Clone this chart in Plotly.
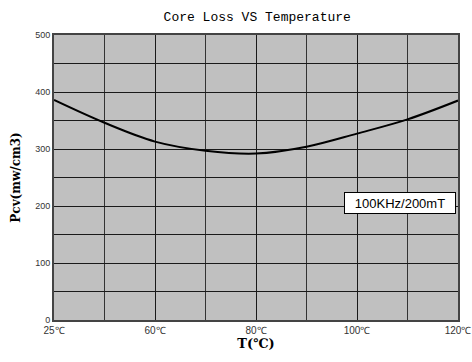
import plotly.graph_objects as go

# Temperature grid positions (evenly spaced on the chart) and their labels
positions = [0, 1, 2, 3, 4, 5, 6, 7, 8]
tick_positions = [0, 2, 4, 6, 8]
tick_labels = ["25℃", "60℃", "80℃", "100℃", "120℃"]

# Core loss Pcv (mW/cm³) at each grid position, 100KHz / 200mT
core_loss = [386, 346, 313, 297, 292, 304, 327, 352, 385]

fig = go.Figure()
fig.add_trace(go.Scatter(
    x=positions, y=core_loss, mode="lines",
    line=dict(color="#000000", width=2, shape="spline", smoothing=1.0),
    hoverinfo="skip", showlegend=False,
))

fig.add_annotation(
    x=0.995, y=206, xref="paper", yref="y", xanchor="right", yanchor="middle",
    text="100KHz/200mT", showarrow=False, width=106, height=16,
    font=dict(family="Arial, Liberation Sans", size=13, color="#000000"),
    bgcolor="#ffffff", bordercolor="#000000", borderwidth=1, borderpad=2,
)

fig.update_layout(
    width=472, height=362,
    margin=dict(l=54, r=14, t=35, b=42),
    paper_bgcolor="#ffffff", plot_bgcolor="#c0c0c0",
    title=dict(text="Core Loss VS Temperature", x=0.545, xanchor="center",
               y=0.955, yanchor="middle",
               font=dict(family="Liberation Mono", size=13, color="#000000")),
    xaxis=dict(
        range=[0, 8], tickvals=tick_positions, ticktext=tick_labels,
        automargin=False,
        showgrid=True, gridcolor="#1a1a1a", gridwidth=1,
        minor=dict(dtick=1, showgrid=True, gridcolor="#333333", gridwidth=1),
        showline=True, linecolor="#444444", linewidth=2, mirror=True,
        zeroline=False, ticks="", ticklen=0,
        tickfont=dict(family="Arial, Liberation Sans", size=10, color="#333333"),
        title=dict(text="<b>T(℃)</b>", standoff=4,
                   font=dict(family="DejaVu Serif", size=13, color="#000000")),
    ),
    yaxis=dict(
        range=[0, 500], dtick=100, tick0=0,
        automargin=False,
        showgrid=True, gridcolor="#1a1a1a", gridwidth=1,
        minor=dict(dtick=50, showgrid=True, gridcolor="#1a1a1a", gridwidth=1),
        showline=True, linecolor="#444444", linewidth=2, mirror=True,
        zeroline=False, ticks="", ticklen=0,
        tickfont=dict(family="Arial, Liberation Sans", size=9, color="#333333"),
        title=dict(text="<b>Pcv(mw/cm3)</b>", standoff=12,
                   font=dict(family="DejaVu Serif", size=12, color="#000000")),
    ),
)

fig.write_html("out.html")
